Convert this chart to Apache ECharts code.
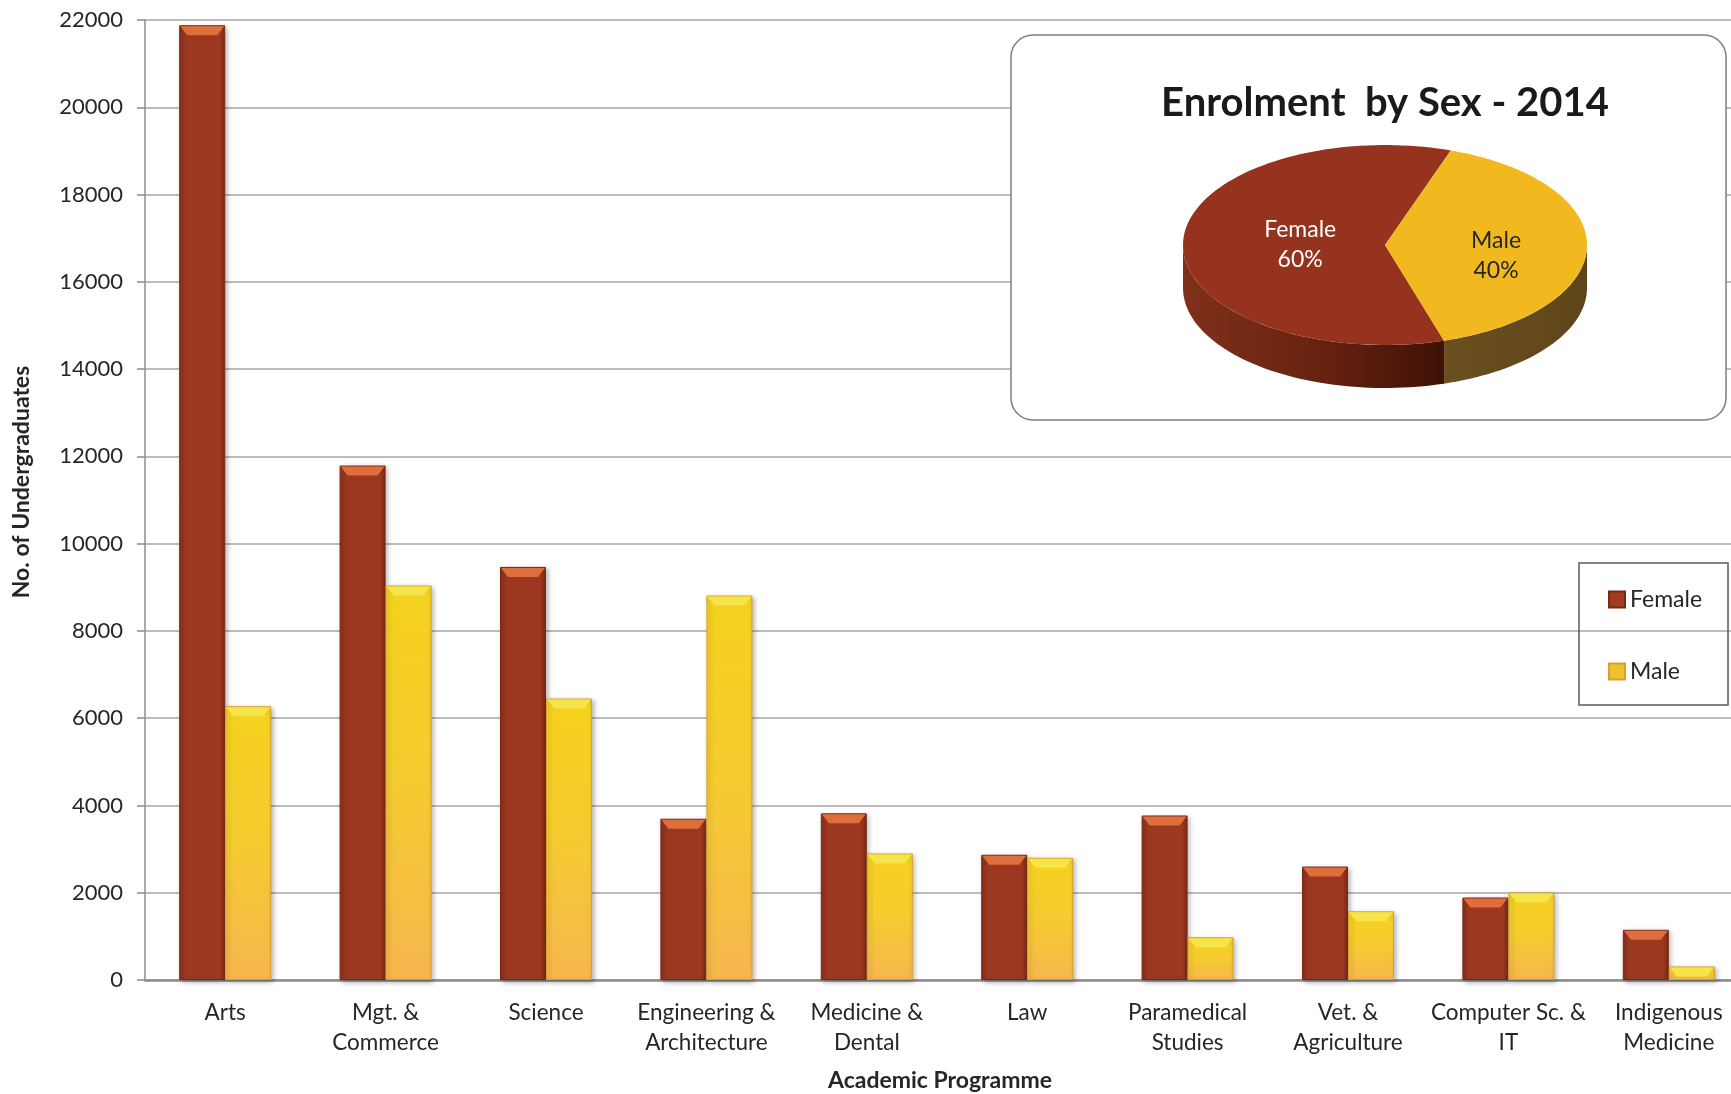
<!DOCTYPE html>
<html><head><meta charset="utf-8">
<script src="https://cdn.jsdelivr.net/npm/echarts/dist/echarts.min.js"></script>
<style>html,body{margin:0;padding:0;background:#fff}#c{width:1731px;height:1094px}</style>
</head><body><div id="c"></div>
<script>
// ---- data ----
const categories = ['Arts','Mgt. &\nCommerce','Science','Engineering &\nArchitecture','Medicine &\nDental','Law','Paramedical\nStudies','Vet. &\nAgriculture','Computer Sc. &\nIT','Indigenous\nMedicine'];
const female = [21880, 11790, 9466, 3695, 3820, 2870, 3770, 2600, 1890, 1150];
const male   = [6275, 9040, 6450, 8810, 2900, 2800, 980, 1575, 2005, 310];
const yMin = 0, yMax = 22000, yStep = 2000;
const seriesNames = ['Female', 'Male'];
const pieLabels = ['Female', 'Male'];
const pieValues = [60, 40];
const pieTitle = 'Enrolment  by Sex - 2014';

// ---- styles ----
const FONT = 'Lato';
const PC = {cx: 1385, cy: 245, rx: 202, ry: 100, depth: 43, start: 73};
const pieTopFill = ['#96331E', '#F1B81F'];
const pieSideFill = [
  {type:'linear', x:0, y:0, x2:1, y2:0, colorStops:[{offset:0,color:'#80301A'},{offset:0.55,color:'#66220F'},{offset:1,color:'#3F1106'}]},
  {type:'linear', x:0, y:0, x2:1, y2:0, colorStops:[{offset:0,color:'#6B4F1F'},{offset:1,color:'#5E4519'}]}
];
const pieLabelColor = ['#ffffff', '#262626'];
const pieLabelR = [0.42, 0.55];

const femaleFill = {type:'linear', x:0, y:0, x2:1, y2:0, colorStops:[
  {offset:0,color:'#86301B'},{offset:0.12,color:'#9C3820'},{offset:0.88,color:'#9C3820'},{offset:1,color:'#7A2915'}]};
const maleFill = {type:'linear', x:0, y:0, x2:0, y2:1, colorStops:[
  {offset:0,color:'#F5D21E'},{offset:0.5,color:'#F5CB30'},{offset:1,color:'#F7B64E'}]};

function renderPie(params, api) {
  const i = params.dataIndex;
  const total = pieValues.reduce((a, b) => a + b, 0);
  let cum = 0;
  for (let k = 0; k < i; k++) cum += pieValues[k];
  const v = api.value(0);
  const a0 = PC.start + 360 * cum / total;
  const a1 = a0 + 360 * v / total;
  const rad = d => d * Math.PI / 180;
  const pt = (a, dy) => [PC.cx + PC.rx * Math.cos(rad(a)), PC.cy + PC.ry * Math.sin(rad(a)) + dy];
  const arc = (s, e, dy) => {
    const n = Math.max(2, Math.ceil(Math.abs(e - s) / 2));
    const pts = [];
    for (let j = 0; j <= n; j++) pts.push(pt(s + (e - s) * j / n, dy));
    return pts;
  };
  const children = [];
  for (const k of [0, 360]) {
    const s = Math.max(a0, k), e = Math.min(a1, k + 180);
    if (e > s) {
      children.push({type:'polygon', shape:{points: arc(s, e, 0).concat(arc(e, s, PC.depth))},
        style:{fill: pieSideFill[i]}});
    }
  }
  children.push({type:'polygon', shape:{points: [[PC.cx, PC.cy]].concat(arc(a0, a1, 0))},
    style:{fill: pieTopFill[i]}});
  const mid = (a0 + a1) / 2;
  children.push({type:'text', style:{
    text: pieLabels[i] + '\n' + v + '%',
    x: PC.cx + PC.rx * pieLabelR[i] * Math.cos(rad(mid)),
    y: PC.cy + PC.ry * pieLabelR[i] * Math.sin(rad(mid)) + (i === 1 ? 10 : 0),
    align:'center', verticalAlign:'middle', fill: pieLabelColor[i],
    fontSize: 23, fontFamily: FONT, lineHeight: 30}});
  return {type:'group', children};
}

const chart = echarts.init(document.getElementById('c'), null, {renderer:'canvas'});
chart.setOption({
  animation: false,
  backgroundColor: '#ffffff',
  textStyle: {fontFamily: FONT},
  grid: {left: 145, top: 20, width: 1604, height: 960, containLabel: false, outerBoundsMode: 'none'},
  title: {text: pieTitle, left: 1380, top: 78, textAlign: 'center', z: 120,
    textStyle: {fontSize: 40, fontWeight: 'bold', fontFamily: FONT, color: '#1a1a1a'}},
  legend: {data: [
      {name: seriesNames[0], itemStyle: {color: '#A33B20'}},
      {name: seriesNames[1], itemStyle: {color: '#F0C030'}}],
    orient: 'vertical', left: 1603, top: 583, itemWidth: 16, itemHeight: 16, itemGap: 49, icon: 'rect',
    textStyle: {fontSize: 23, color: '#262626', fontFamily: FONT, lineHeight: 22}, z: 120},
  graphic: [
    {type:'rect', z: 100, shape:{x:1011, y:35, width:715, height:385, r:22},
      style:{fill:'#ffffff', stroke:'#7f7f7f', lineWidth:1.5}},
    {type:'rect', z: 100, shape:{x:1579, y:563, width:149, height:142},
      style:{fill:'none', stroke:'#595959', lineWidth:1.5}}
  ],
  xAxis: {type: 'category', data: categories,
    name: 'Academic Programme', nameLocation: 'middle', nameGap: 89,
    nameTextStyle: {fontSize: 23, fontWeight: 'bold', color: '#262626', fontFamily: FONT, padding: [0, 14, 0, 0]},
    axisLine: {lineStyle: {color: '#8c8c8c', width: 2.5}},
    axisTick: {show: false},
    axisLabel: {interval: 0, fontSize: 22.5, lineHeight: 30, margin: 18, color: '#262626', fontFamily: FONT}},
  yAxis: {type: 'value', min: yMin, max: yMax, interval: yStep,
    name: 'No. of Undergraduates', nameLocation: 'middle', nameGap: 112,
    nameTextStyle: {fontSize: 23, fontWeight: 'bold', color: '#262626', fontFamily: FONT, padding: [0, 0, 0, 36]},
    axisLine: {show: true, lineStyle: {color: '#8c8c8c', width: 1.5}},
    axisTick: {show: true, length: 8, lineStyle: {color: '#8c8c8c', width: 1.5}},
    splitLine: {lineStyle: {color: '#a6a6a6', width: 1.5}},
    axisLabel: {fontSize: 22, margin: 22, color: '#262626', fontFamily: FONT, formatter: v => String(v)}},
  series: [
    {type: 'bar', name: seriesNames[0], data: female, barWidth: 46, barGap: '0%',
      itemStyle: {color: femaleFill, borderColor: '#7A2814', borderWidth: 1,
        shadowBlur: 5, shadowColor: 'rgba(0,0,0,0.3)', shadowOffsetX: 2, shadowOffsetY: 2}},
    {type: 'bar', name: seriesNames[1], data: male, barWidth: 46, barGap: '0%',
      itemStyle: {color: maleFill, borderColor: '#D8A12C', borderWidth: 1,
        shadowBlur: 5, shadowColor: 'rgba(0,0,0,0.3)', shadowOffsetX: 2, shadowOffsetY: 2}},
    {type: 'pictorialBar', name: 'femaleTop', data: female, barWidth: 46, barGap: '0%',
      symbol: 'path://M0,0 L50,0 L42,10 L8,10 Z', symbolSize: [44, 9], symbolPosition: 'end',
      symbolOffset: [0, 1], itemStyle: {color: '#DE6E3C'}, z: 3, silent: true},
    {type: 'pictorialBar', name: 'maleTop', data: male, barWidth: 46, barGap: '0%',
      symbol: 'path://M0,0 L50,0 L42,10 L8,10 Z', symbolSize: [44, 9], symbolPosition: 'end',
      symbolOffset: [0, 1], itemStyle: {color: '#F6E54A'}, z: 3, silent: true},
    {type: 'custom', name: 'pie', coordinateSystem: 'none', renderItem: renderPie, z: 110,
      data: pieValues.map((v, i) => ({name: pieLabels[i] + ' share', value: [v]})), silent: true}
  ]
});
</script>
</body></html>
